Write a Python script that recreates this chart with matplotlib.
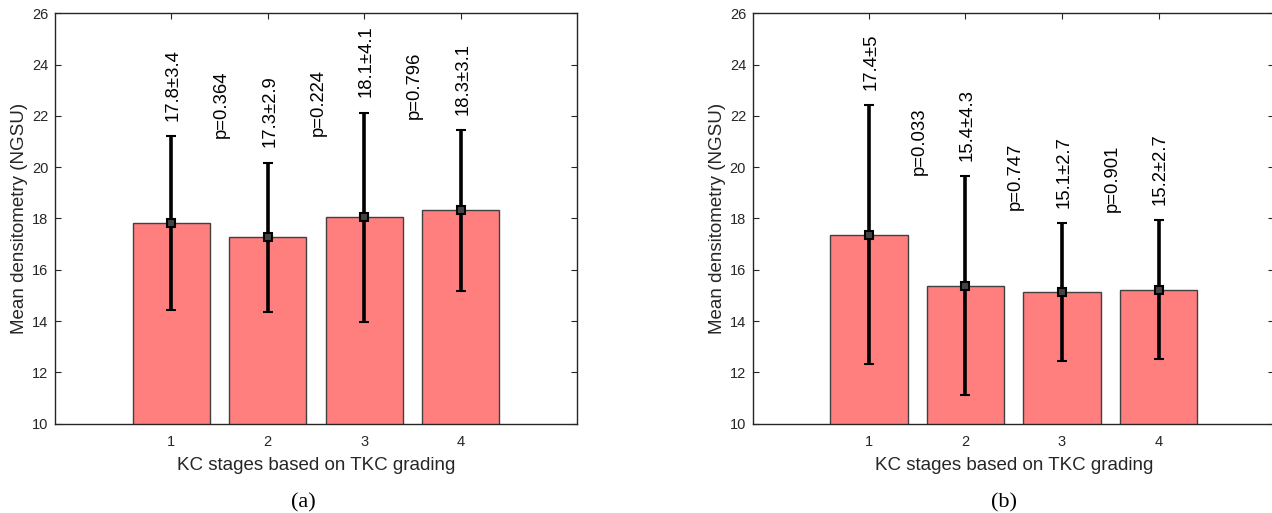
import matplotlib
matplotlib.use("Agg")
import matplotlib.pyplot as plt

plt.rcParams['font.family'] = ['Liberation Sans', 'DejaVu Sans']

stages = [1, 2, 3, 4]

# panel (a)
mean_a = [17.83, 17.26, 18.05, 18.32]
sd_a = [3.39, 2.91, 4.07, 3.13]
lab_a = ["17.8\u00b13.4", "17.3\u00b12.9", "18.1\u00b14.1", "18.3\u00b13.1"]
p_a = ["p=0.364", "p=0.224", "p=0.796"]
p_y_a = [21.13, 21.22, 21.87]

# panel (b)
mean_b = [17.37, 15.37, 15.13, 15.22]
sd_b = [5.05, 4.27, 2.68, 2.71]
lab_b = ["17.4\u00b15", "15.4\u00b14.3", "15.1\u00b12.7", "15.2\u00b12.7"]
p_b = ["p=0.033", "p=0.747", "p=0.901"]
p_y_b = [19.7, 18.34, 18.27]

bar_col = "#FF7F7F"
txt_col = "#262626"


def panel(ax, mean, sd, labs, pl, py):
    ax.bar(stages, mean, width=0.8, color=bar_col, edgecolor="#404040", linewidth=1.0, zorder=2)
    ax.errorbar(stages, mean, yerr=sd, fmt="s", color="black", ecolor="black",
                elinewidth=2.6, capsize=3.8, capthick=2.6, ms=5.5,
                mfc="#444444", mec="black", mew=1.5, zorder=3)
    for i in range(len(stages)):
        ax.text(stages[i] + 0.02, mean[i] + sd[i] + 0.6, labs[i], rotation=90,
                ha="center", va="bottom", fontsize=13.3, color="black")
    for i in range(len(pl)):
        ax.text(stages[i] + 0.52, py[i], pl[i], rotation=90,
                ha="center", va="bottom", fontsize=13.3, color="black")
    ax.set_xlim(-0.2, 5.2)
    ax.set_ylim(10, 26)
    ax.set_yticks(range(10, 27, 2))
    ax.set_xticks(stages)
    ax.tick_params(direction="in", top=True, right=True, length=4.3, width=0.8,
                   labelsize=10.5, labelcolor=txt_col, color=txt_col)
    ax.tick_params(axis="x", pad=8)
    ax.tick_params(axis="y", pad=5)
    for s in ax.spines.values():
        s.set_color(txt_col)
        s.set_linewidth(1.0)
    ax.set_xlabel("KC stages based on TKC grading", fontsize=13.5, color=txt_col, labelpad=6)
    ax.set_ylabel("Mean densitometry (NGSU)", fontsize=13.5, color=txt_col, labelpad=3)


fig = plt.figure(figsize=(12.72, 5.13), dpi=100)
ax1 = fig.add_axes([0.0435, 0.1741, 0.4099, 0.8])
ax2 = fig.add_axes([0.592, 0.1741, 0.4099, 0.8])

panel(ax1, mean_a, sd_a, lab_a, p_a, p_y_a)
panel(ax2, mean_b, sd_b, lab_b, p_b, p_y_b)

fig.text(0.2388, 0.02, "(a)", family=["Liberation Serif", "DejaVu Serif"], fontsize=16,
         ha="center", va="center", color="black")
fig.text(0.789, 0.02, "(b)", family=["Liberation Serif", "DejaVu Serif"], fontsize=16,
         ha="center", va="center", color="black")

fig.savefig("out.png", dpi=100)
